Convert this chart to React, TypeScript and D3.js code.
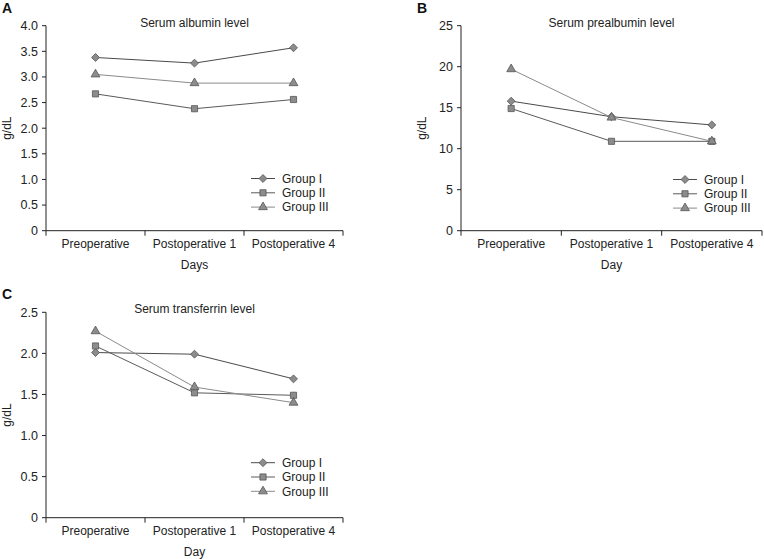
import React from "react";
import * as d3 from "d3";

const categories = ["Preoperative", "Postoperative 1", "Postoperative 4"];
const groups = ["Group I", "Group II", "Group III"];

const albuminI = [3.38, 3.27, 3.57];
const albuminII = [2.67, 2.38, 2.56];
const albuminIII = [3.05, 2.88, 2.88];

const prealbuminI = [15.8, 13.9, 12.9];
const prealbuminII = [14.9, 10.9, 10.9];
const prealbuminIII = [19.7, 13.8, 10.9];

const transferrinI = [2.01, 1.99, 1.69];
const transferrinII = [2.09, 1.52, 1.49];
const transferrinIII = [2.27, 1.59, 1.40];

const albuminTicks = [0, 0.5, 1, 1.5, 2, 2.5, 3, 3.5, 4];
const prealbuminTicks = [0, 5, 10, 15, 20, 25];
const transferrinTicks = [0, 0.5, 1, 1.5, 2, 2.5];

const font = "'Liberation Sans', Arial, sans-serif";
const lineColors = ["#4a4a4a", "#5a5a5a", "#8a8a8a"];
const markerFill = "#8c8c8c";
const markerStroke = "#555";
const symbols = [d3.symbolDiamond2, d3.symbolSquare, d3.symbolTriangle];
const symbolSizes = [40, 38, 34];

type PanelProps = {
  letter: string;
  title: string;
  xLabel: string;
  x0: number;
  x1: number;
  yTop: number;
  yBottom: number;
  ticks: number[];
  fmt: (v: number) => string;
  series: number[][];
  legendX: number;
  legendY: number;
};

const marker = (i: number) =>
  d3.symbol().type(symbols[i]).size(symbolSizes[i])() as string;

const Panel = (p: PanelProps) => {
  const x = d3.scaleBand().domain(categories).range([p.x0, p.x1]).padding(0);
  const y = d3
    .scaleLinear()
    .domain([0, p.ticks[p.ticks.length - 1]])
    .range([p.yBottom, p.yTop]);
  const cx = (c: string) => (x(c) as number) + x.bandwidth() / 2;
  const line = d3
    .line<number>()
    .x((d, i) => cx(categories[i]))
    .y(d => y(d));
  const boundaries = categories.map(c => x(c) as number).concat([p.x1]);
  const midX = (p.x0 + p.x1) / 2;

  return (
    <g fontFamily={font}>
      <text x={p.x0 - 44} y={p.yTop - 13} fontSize={14} fontWeight="bold" fill="#111">
        {p.letter}
      </text>
      <text x={midX} y={p.yTop + 1} fontSize={12} textAnchor="middle" fill="#222">
        {p.title}
      </text>
      {/* y axis */}
      <line x1={p.x0} x2={p.x0} y1={p.yTop} y2={p.yBottom} stroke="#222" />
      {p.ticks.map(t => (
        <g key={t}>
          <line x1={p.x0 - 4} x2={p.x0} y1={y(t)} y2={y(t)} stroke="#222" />
          <text x={p.x0 - 8} y={y(t)} dy="0.35em" fontSize={12.5} textAnchor="end" fill="#222">
            {p.fmt(t)}
          </text>
        </g>
      ))}
      <text
        transform={`translate(${p.x0 - 35},${(p.yTop + p.yBottom) / 2}) rotate(-90)`}
        fontSize={12}
        textAnchor="middle"
        fill="#222"
      >
        g/dL
      </text>
      {/* x axis */}
      <line x1={p.x0} x2={p.x1} y1={p.yBottom} y2={p.yBottom} stroke="#222" />
      {boundaries.map(b => (
        <line key={b} x1={b} x2={b} y1={p.yBottom} y2={p.yBottom + 5} stroke="#222" />
      ))}
      {categories.map(c => (
        <text key={c} x={cx(c)} y={p.yBottom + 17} fontSize={12} textAnchor="middle" fill="#222">
          {c}
        </text>
      ))}
      <text x={midX} y={p.yBottom + 38} fontSize={12} textAnchor="middle" fill="#222">
        {p.xLabel}
      </text>
      {/* series */}
      {p.series.map((s, i) => (
        <g key={i}>
          <path d={line(s) as string} fill="none" stroke={lineColors[i]} strokeWidth={1} />
          {s.map((v, j) => (
            <path
              key={j}
              d={marker(i)}
              transform={`translate(${cx(categories[j])},${y(v)})`}
              fill={markerFill}
              stroke={markerStroke}
              strokeWidth={0.8}
            />
          ))}
        </g>
      ))}
      {/* legend */}
      {groups.map((g, i) => {
        const ly = p.legendY + i * 14.3;
        return (
          <g key={g}>
            <line x1={p.legendX - 12} x2={p.legendX + 12} y1={ly} y2={ly} stroke={lineColors[i]} />
            <path
              d={marker(i)}
              transform={`translate(${p.legendX},${ly})`}
              fill={markerFill}
              stroke={markerStroke}
              strokeWidth={0.8}
            />
            <text x={p.legendX + 19} y={ly} dy="0.35em" fontSize={12} fill="#222">
              {g}
            </text>
          </g>
        );
      })}
    </g>
  );
};

const fmtDec = (v: number) => (v === 0 ? "0" : d3.format(".1f")(v));
const fmtInt = (v: number) => d3.format("d")(v);

export default function App() {
  return (
    <svg
      width={764}
      height={559}
      style={{ position: "absolute", left: 0, top: 0, background: "#fff" }}
    >
      <Panel
        letter="A"
        title="Serum albumin level"
        xLabel="Days"
        x0={46}
        x1={343}
        yTop={25.7}
        yBottom={230.7}
        ticks={albuminTicks}
        fmt={fmtDec}
        series={[albuminI, albuminII, albuminIII]}
        legendX={263}
        legendY={178.5}
      />
      <Panel
        letter="B"
        title="Serum prealbumin level"
        xLabel="Day"
        x0={461}
        x1={762}
        yTop={25.7}
        yBottom={230.7}
        ticks={prealbuminTicks}
        fmt={fmtInt}
        series={[prealbuminI, prealbuminII, prealbuminIII]}
        legendX={685}
        legendY={179.5}
      />
      <Panel
        letter="C"
        title="Serum transferrin level"
        xLabel="Day"
        x0={46}
        x1={343}
        yTop={312.3}
        yBottom={517.7}
        ticks={transferrinTicks}
        fmt={fmtDec}
        series={[transferrinI, transferrinII, transferrinIII]}
        legendX={263}
        legendY={462.7}
      />
    </svg>
  );
}
